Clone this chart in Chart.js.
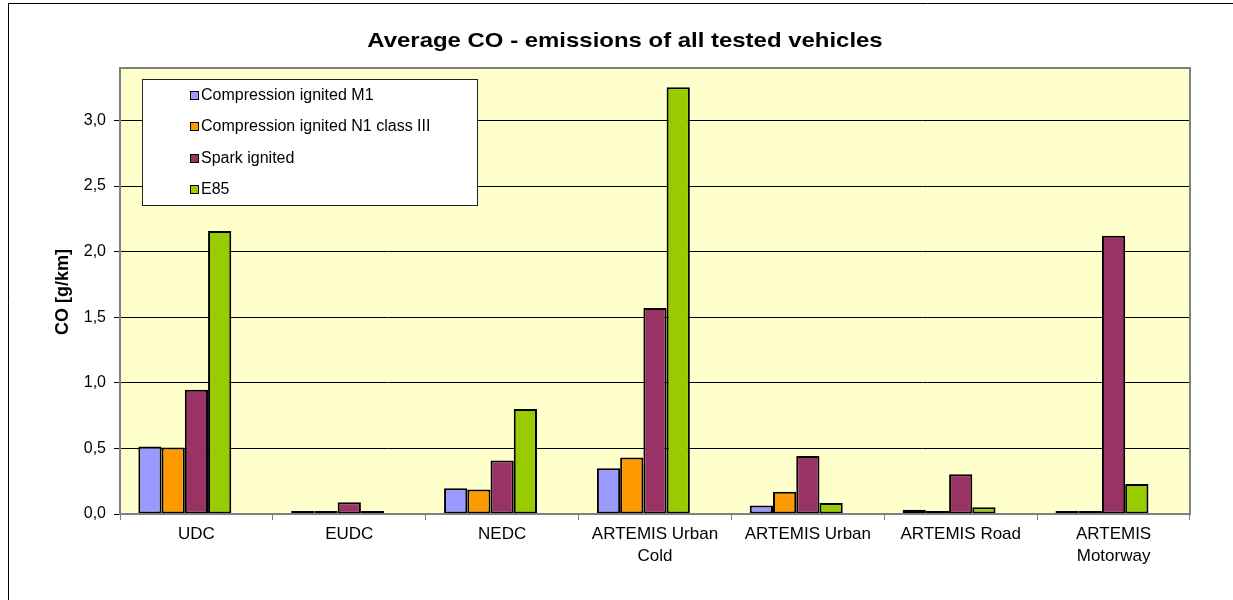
<!DOCTYPE html>
<html>
<head>
<meta charset="utf-8">
<title>Average CO - emissions of all tested vehicles</title>
<script src="https://cdn.jsdelivr.net/npm/chart.js@4/dist/chart.umd.min.js"></script>
<style>
  html, body { margin: 0; padding: 0; background: #fff; }
  #wrap { width: 1233px; height: 600px; position: relative; }
</style>
</head>
<body>
<div id="wrap"><canvas id="chart" width="1233" height="600"></canvas></div>
<script>
// Test cycles
const categories = ['UDC', 'EUDC', 'NEDC', ['ARTEMIS Urban', 'Cold'], 'ARTEMIS Urban', 'ARTEMIS Road', ['ARTEMIS', 'Motorway']];

// Series names
const seriesNames = ['Compression ignited M1', 'Compression ignited N1 class III', 'Spark ignited', 'E85'];

// Average CO emissions, g/km
const ciM1     = [0.515, 0.005, 0.196, 0.349, 0.064, 0.033, 0.014];
const ciN1     = [0.507, 0.005, 0.186, 0.430, 0.170, 0.012, 0.005];
const spark    = [0.948, 0.089, 0.407, 1.570, 0.443, 0.303, 2.122];
const e85      = [2.157, 0.012, 0.800, 3.254, 0.084, 0.051, 0.229];

// Y axis tick values
const yTicks = [0, 0.5, 1.0, 1.5, 2.0, 2.5, 3.0];

const seriesColors = ['#9999FF', '#FF9900', '#993366', '#99CC00'];
const seriesValues = [ciM1, ciN1, spark, e85];

const FONT = '"Liberation Sans", Arial, sans-serif';

// Background, frame, plot area fill, legend box and titles
const decorations = {
  id: 'decorations',
  beforeDraw(chart) {
    const { ctx, chartArea: a } = chart;
    ctx.save();
    ctx.fillStyle = '#ffffff';
    ctx.fillRect(0, 0, chart.width, chart.height);
    ctx.strokeStyle = '#000000';
    ctx.lineWidth = 1;
    ctx.beginPath();
    ctx.moveTo(8.5, chart.height + 2);
    ctx.lineTo(8.5, 3.5);
    ctx.lineTo(chart.width + 2, 3.5);
    ctx.stroke();
    ctx.fillStyle = '#FFFFCC';
    ctx.fillRect(a.left, a.top, a.right - a.left, a.bottom - a.top);
    ctx.restore();
  },
  afterDatasetsDraw(chart) {
    const { ctx, chartArea: a } = chart;
    ctx.save();
    // plot area frame
    ctx.strokeStyle = '#808080';
    ctx.lineWidth = 2;
    ctx.strokeRect(a.left, a.top, a.right - a.left, a.bottom - a.top);

    // legend
    const lx = 142.5, ly = 79.5, lw = 335, lh = 126;
    ctx.fillStyle = '#ffffff';
    ctx.fillRect(lx, ly, lw, lh);
    ctx.strokeStyle = '#222222';
    ctx.lineWidth = 1;
    ctx.strokeRect(lx, ly, lw, lh);
    ctx.font = '16px ' + FONT;
    ctx.textBaseline = 'middle';
    ctx.textAlign = 'left';
    chart.data.datasets.filter(ds => ds.label).forEach((ds, i) => {
      const cy = 95.5 + i * 31.5;
      ctx.fillStyle = ds.backgroundColor;
      ctx.fillRect(190.5, Math.round(cy) - 4.5, 8, 8);
      ctx.strokeStyle = '#000000';
      ctx.strokeRect(190.5, Math.round(cy) - 4.5, 8, 8);
      ctx.fillStyle = '#000000';
      ctx.fillText(ds.label, 201, cy);
    });
    ctx.restore();
  },
  afterDraw(chart) {
    const { ctx } = chart;
    ctx.save();
    // chart title
    ctx.fillStyle = '#000000';
    ctx.font = 'bold 21px ' + FONT;
    ctx.textAlign = 'center';
    ctx.textBaseline = 'alphabetic';
    ctx.translate(625, 47);
    ctx.scale(1.14, 1);
    ctx.fillText('Average CO - emissions of all tested vehicles', 0, 0);
    ctx.restore();

    // y axis title
    ctx.save();
    ctx.fillStyle = '#000000';
    ctx.font = 'bold 18px ' + FONT;
    ctx.textAlign = 'center';
    ctx.textBaseline = 'middle';
    ctx.translate(63, 292);
    ctx.rotate(-Math.PI / 2);
    ctx.fillText('CO [g/km]', 0, 0);
    ctx.restore();
  }
};

const barStyle = {
  borderColor: '#000000',
  borderWidth: 2,
  borderSkipped: false,
  minBarLength: 3,
  categoryPercentage: 0.76,
  barPercentage: 1.0
};

const datasets = seriesNames.map((name, i) => Object.assign({
  label: name,
  data: seriesValues[i],
  backgroundColor: seriesColors[i]
}, barStyle));

// empty trailing slot so each group sits left of the category centre
datasets.push(Object.assign({
  label: '',
  data: categories.map(() => null),
  backgroundColor: 'rgba(0,0,0,0)'
}, barStyle, { borderWidth: 0, minBarLength: 0 }));

new Chart(document.getElementById('chart'), {
  type: 'bar',
  data: { labels: categories, datasets },
  options: {
    responsive: false,
    animation: false,
    devicePixelRatio: 1,
    layout: { padding: { left: 0, right: 43, top: 68, bottom: 0 } },
    plugins: {
      legend: { display: false },
      title: { display: false },
      tooltip: { enabled: false }
    },
    scales: {
      x: {
        offset: true,
        grid: {
          offset: true,
          drawOnChartArea: false,
          drawTicks: true,
          tickLength: 6,
          color: '#808080',
          lineWidth: 1
        },
        border: { display: false },
        ticks: {
          autoSkip: false,
          maxRotation: 0,
          minRotation: 0,
          padding: 4,
          color: '#000000',
          font: { family: FONT, size: 17, lineHeight: 1.25 }
        },
        afterFit(scale) { scale.height = 86; }
      },
      y: {
        min: 0,
        max: 3.4,
        afterBuildTicks(scale) {
          scale.ticks = yTicks.map(v => ({ value: v }));
        },
        grid: {
          color: '#000000',
          lineWidth: 1,
          drawTicks: true,
          tickLength: 6
        },
        border: { display: false },
        ticks: {
          padding: 8,
          color: '#000000',
          font: { family: FONT, size: 16 },
          callback: v => v.toFixed(1).replace('.', ',')
        },
        afterFit(scale) { scale.width = 120; }
      }
    }
  },
  plugins: [decorations]
});
</script>
</body>
</html>
